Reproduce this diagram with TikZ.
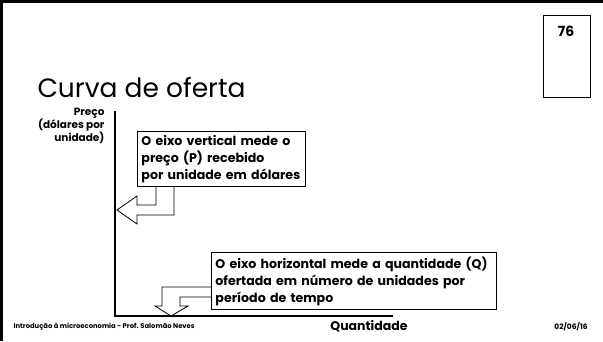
\documentclass[tikz,border=0pt]{standalone}
\usepackage{fontspec}
\setmainfont{Poppins}
\usetikzlibrary{positioning,calc}
\definecolor{SlInk}{HTML}{000000}
\definecolor{SlShade}{HTML}{7F7F7F}
\definecolor{SlPaper}{HTML}{FFFFFF}
\tikzset{
  frame/.style={SlInk,line width=3pt},
  axis/.style={SlInk,line width=1.4pt},
  note/.style={draw=SlInk,line width=0.9pt,fill=SlPaper,text=SlInk,align=left,
               anchor=north west,inner xsep=4pt,inner ysep=0pt,
               font=\fontsize{12.6}{17}\selectfont\bfseries},
  bentarrow/.style={draw=SlInk,line width=0.8pt,fill=SlPaper,line join=miter},
  pagebox/.style={draw=SlInk,line width=0.8pt,anchor=north west,
                  minimum width=47pt,minimum height=82pt},
  slidetitle/.style={text=SlInk,font=\fontsize{26.5}{32}\selectfont,anchor=base west},
  axlabel/.style={text=SlInk,font=\fontsize{10.5}{13}\selectfont\bfseries,align=right},
  footer/.style={text=SlInk,font=\fontsize{6.8}{8}\selectfont\bfseries},
}

\begin{document}
\begin{tikzpicture}[x=1pt,y=-1pt]
    \useasboundingbox (0,0) rectangle (603,341);
    \draw[frame] (1.5,341)--(1.5,1.5)--(603,1.5);

    \node[pagebox] (pgbox) at (543,15) {};
    \node[font=\fontsize{14}{16}\selectfont\bfseries] (pgno) at (566,31) {76};
    \node[slidetitle] (title) at (34,97) {Curva de oferta};

    % eixos
    \coordinate (origin) at (115,316);
    \coordinate (ytop) at (115,111);
    \coordinate (xend) at (393,316);
    \draw[axis] (ytop)--(origin)--(xend);
    \node[axlabel,anchor=north east] (ylab) at (108,105) {Preço\\(dólares por\\unidade)};

    % setas dobradas
    \draw[bentarrow] (156,186)--(156,205)--(137,205)--(137,196)--(117,210)--(137,224)
      --(137,215)--(174,215)--(174,186)--cycle;
    \draw[bentarrow] (212,287)--(162,287)--(162,306)--(155,306)--(171,316)--(188,306)
      --(180,306)--(180,297)--(212,297)--cycle;

    \node[note,text width=160pt,minimum height=55pt] (pnote) at (137,131)
      {O eixo vertical mede o\\preço (P) recebido\\por unidade em dólares};
    \node[note,text width=277pt,minimum height=57pt] (qnote) at (211,252)
      {O eixo horizontal mede a quantidade (Q)\\ofertada em número de unidades por\\período de tempo};

    \node[font=\fontsize{12.5}{14}\selectfont\bfseries] (xlab) at (369,326) {Quantidade};
    \node[footer,anchor=west] (course) at (10,327)
      {Introdução à microeconomia - Prof. Salomão Neves};
    \node[footer,font=\fontsize{7.5}{9}\selectfont\bfseries] (date) at (571,327) {02/06/16};
\end{tikzpicture}
\end{document}
